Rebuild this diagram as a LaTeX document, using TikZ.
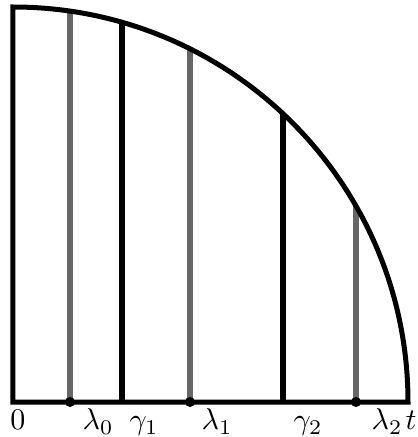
\documentclass[tikz,border=0pt]{standalone}
\begin{document}
\begin{tikzpicture}[x=1pt,y=1pt,
  outline/.style={line width=5pt,black},
  grayline/.style={line width=6pt,color=black!60},
  blackline/.style={line width=6pt,black},
  dotmark/.style={circle,fill=black,inner sep=0pt,minimum size=10pt},
  lbl/.style={anchor=base,inner sep=0pt,scale=3}]
\useasboundingbox (-13,-35) rectangle (405,402);
% base points
\coordinate (O) at (0,0);
\coordinate (T) at (395,0);
\coordinate (Top) at (0,395);
\coordinate (l0) at (57,0);   \coordinate (l0t) at (57,390.9);
\coordinate (g1) at (109,0);  \coordinate (g1t) at (109,379.7);
\coordinate (l1) at (177,0);  \coordinate (l1t) at (177,353.1);
\coordinate (g2) at (270,0);  \coordinate (g2t) at (270,288.3);
\coordinate (l2) at (343,0);  \coordinate (l2t) at (343,195.9);
% vertical lines
\draw[grayline] (l0) -- (l0t);
\draw[grayline] (l1) -- (l1t);
\draw[grayline] (l2) -- (l2t);
\draw[blackline] (g1) -- (g1t);
\draw[blackline] (g2) -- (g2t);
% outline
\draw[outline] (Top) -- (O) -- (T) arc[start angle=0,end angle=90,radius=395] -- cycle;
% dots
\node[dotmark] (d0) at (l0) {};
\node[dotmark] (d1) at (l1) {};
\node[dotmark] (d2) at (l2) {};
% labels
\node[lbl] (n0) at (5,-28) {$0$};
\node[lbl] (nl0) at (85,-28) {$\lambda_0$};
\node[lbl] (ng1) at (131,-28) {$\gamma_1$};
\node[lbl] (nl1) at (204,-28) {$\lambda_1$};
\node[lbl] (ng2) at (295,-28) {$\gamma_2$};
\node[lbl] (nl2) at (374,-28) {$\lambda_2$};
\node[lbl] (nt) at (398,-28) {$t$};
\end{tikzpicture}
\end{document}
